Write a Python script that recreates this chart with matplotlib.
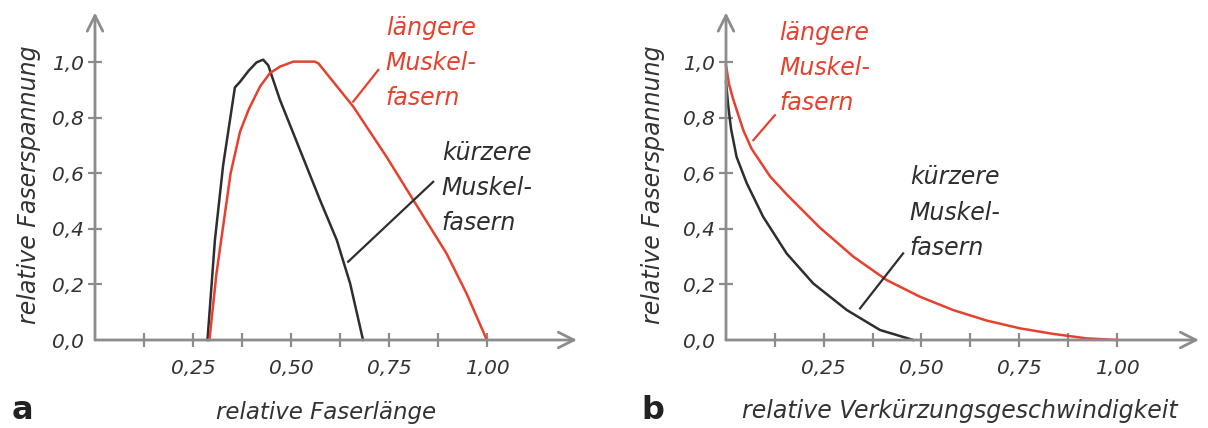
import matplotlib
matplotlib.use("Agg")
import matplotlib.pyplot as plt

# panel a: Kraft-Laengen-Kurve
a_kurz_x = [0.287, 0.306, 0.327, 0.357, 0.370, 0.392, 0.412, 0.429, 0.442, 0.472, 0.523, 0.574, 0.617, 0.651, 0.684]
a_kurz_y = [0.0, 0.36, 0.63, 0.91, 0.93, 0.97, 1.0, 1.01, 0.99, 0.865, 0.685, 0.505, 0.36, 0.204, 0.0]
a_lang_x = [0.292, 0.31, 0.327, 0.346, 0.370, 0.392, 0.421, 0.446, 0.472, 0.506, 0.561, 0.57,
            0.659, 0.744, 0.812, 0.897, 0.948, 1.0]
a_lang_y = [0.0, 0.24, 0.41, 0.60, 0.75, 0.83, 0.913, 0.961, 0.985, 1.003, 1.003, 0.997,
            0.841, 0.66, 0.505, 0.312, 0.168, 0.0]

# panel b: Kraft-Geschwindigkeits-Kurve
b_kurz_x = [0.0, 0.006, 0.013, 0.027, 0.053, 0.095, 0.155, 0.223, 0.309, 0.394, 0.479]
b_kurz_y = [0.93, 0.84, 0.76, 0.66, 0.565, 0.444, 0.312, 0.204, 0.108, 0.036, 0.0]
b_lang_x = [0.0, 0.008, 0.019, 0.044, 0.065, 0.113, 0.155, 0.24, 0.326, 0.411, 0.496, 0.581,
            0.667, 0.752, 0.837, 0.922, 1.0]
b_lang_y = [0.99, 0.92, 0.865, 0.757, 0.69, 0.589, 0.525, 0.405, 0.30, 0.216, 0.156, 0.108,
            0.07, 0.042, 0.022, 0.006, 0.0]

y_ticks = [0.0, 0.2, 0.4, 0.6, 0.8, 1.0]
y_labels = ["0,0", "0,2", "0,4", "0,6", "0,8", "1,0"]
x_ticks = [0.25, 0.5, 0.75, 1.0]
x_labels = ["0,25", "0,50", "0,75", "1,00"]
x_minor = [0.125, 0.375, 0.625, 0.875]

# leader lines for the annotations  [(x0, y0), (x1, y1)]
a_lead_lang = [(0.659, 0.859), (0.723, 0.973)]
a_lead_kurz = [(0.646, 0.282), (0.863, 0.57)]
b_lead_lang = [(0.07, 0.72), (0.125, 0.81)]
b_lead_kurz = [(0.343, 0.114), (0.453, 0.312)]

RED = "#e5412f"
BLACK = "#2e2e2e"
GRAY = "#8c8c8c"
TXT = "#333333"
HAND = dict(family="DejaVu Sans", style="italic")

fig = plt.figure(figsize=(12.08, 4.28), dpi=100)
ax_a = fig.add_axes([95 / 1208, 88 / 428, 482 / 1208, 327.5 / 428])
ax_b = fig.add_axes([726 / 1208, 88 / 428, 473 / 1208, 327.5 / 428])


def style_axes(ax, xmax, ylab_x):
    ax.set_xlim(0, xmax)
    ax.set_ylim(0, 1.18)
    for s in ax.spines.values():
        s.set_visible(False)
    for tip in [(1, 0), (0, 1)]:
        ax.annotate("", xy=tip, xytext=(0, 0), xycoords="axes fraction",
                    arrowprops=dict(arrowstyle="->", color=GRAY, lw=2, mutation_scale=28,
                                    shrinkA=0, shrinkB=0))
    ax.set_yticks(y_ticks)
    ax.set_yticklabels(y_labels, **HAND)
    ax.set_xticks(x_ticks)
    ax.set_xticklabels(x_labels, **HAND)
    ax.set_xticks(x_minor, minor=True)
    ax.tick_params(axis="both", which="both", direction="inout", length=10, width=1.6,
                   color=GRAY, labelcolor=TXT, labelsize=14.5)
    ax.tick_params(axis="x", which="both", pad=9)
    ax.tick_params(axis="y", pad=3)
    ax.yaxis.get_major_ticks()[0].tick1line.set_visible(False)
    ax.set_ylabel("relative Faserspannung", fontsize=17, color=TXT, **HAND)
    ax.yaxis.set_label_coords(ylab_x, 0.473)


style_axes(ax_a, 1.23, -0.112)
style_axes(ax_b, 1.21, -0.13)

ann = dict(fontsize=17, linespacing=1.6, ha="left", va="center", clip_on=False, **HAND)

# panel a
ax_a.plot(a_kurz_x, a_kurz_y, color=BLACK, lw=1.8, clip_on=False)
ax_a.plot(a_lang_x, a_lang_y, color=RED, lw=1.8, clip_on=False)
ax_a.plot([p[0] for p in a_lead_lang], [p[1] for p in a_lead_lang], color=RED, lw=1.6)
ax_a.plot([p[0] for p in a_lead_kurz], [p[1] for p in a_lead_kurz], color=BLACK, lw=1.6)
ax_a.text(0.742, 0.998, "längere\nMuskel-\nfasern", color=RED, **ann)
ax_a.text(0.885, 0.548, "kürzere\nMuskel-\nfasern", color=BLACK, **ann)
fig.text(326 / 1208, 1 - 412 / 428, "relative Faserlänge", fontsize=16.5, color=TXT,
         ha="center", va="center", **HAND)
fig.text(12 / 1208, 1 - 419 / 428, "a", fontsize=23, fontweight="bold", color="#222222",
         ha="left", va="baseline")

# panel b
ax_b.plot(b_kurz_x, b_kurz_y, color=BLACK, lw=1.8, clip_on=False)
ax_b.plot(b_lang_x, b_lang_y, color=RED, lw=1.8, clip_on=False)
ax_b.plot([p[0] for p in b_lead_lang], [p[1] for p in b_lead_lang], color=RED, lw=1.6)
ax_b.plot([p[0] for p in b_lead_kurz], [p[1] for p in b_lead_kurz], color=BLACK, lw=1.6)
ax_b.text(0.136, 0.98, "längere\nMuskel-\nfasern", color=RED, **ann)
ax_b.text(0.47, 0.458, "kürzere\nMuskel-\nfasern", color=BLACK, **ann)
fig.text(960 / 1208, 1 - 411 / 428, "relative Verkürzungsgeschwindigkeit", fontsize=17,
         color=TXT, ha="center", va="center", **HAND)
fig.text(641 / 1208, 1 - 419 / 428, "b", fontsize=23, fontweight="bold", color="#222222",
         ha="left", va="baseline")

fig.savefig("out.png", dpi=100)
